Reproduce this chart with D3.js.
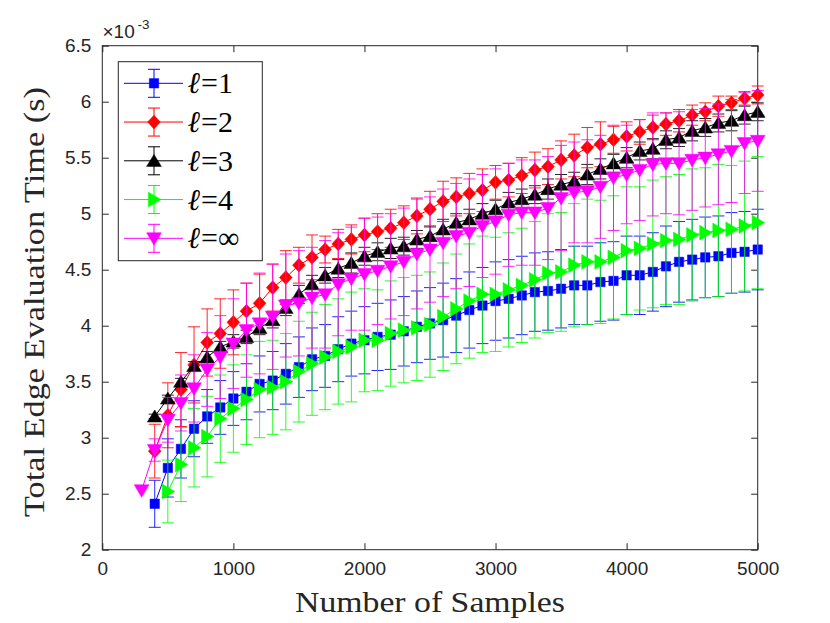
<!DOCTYPE html>
<html>
<head>
<meta charset="utf-8">
<script src="https://cdn.jsdelivr.net/npm/d3@7"></script>
<style>
  body { margin: 0; background: #fff; }
  svg { display: block; }
</style>
</head>
<body>
<div id="chart-area"></div>
<script>
// samples (x) for each series
const samples1 = d3.range(400, 5001, 100);
const samples2 = d3.range(400, 5001, 100);
const samples3 = d3.range(400, 5001, 100);
const samples4 = d3.range(500, 5001, 100);
const samplesInf = d3.range(300, 5001, 100);

// mean total edge evaluation time (x 1e-3 s)
const mean1 = [2.41, 2.73, 2.90, 3.08, 3.19, 3.27, 3.35, 3.41, 3.48, 3.51,
  3.57, 3.63, 3.70, 3.73, 3.79, 3.84, 3.87, 3.90, 3.92, 3.95,
  3.99, 4.02, 4.05, 4.09, 4.14, 4.18, 4.22, 4.24, 4.27, 4.30,
  4.31, 4.33, 4.36, 4.36, 4.39, 4.40, 4.45, 4.45, 4.48, 4.53,
  4.57, 4.59, 4.61, 4.62, 4.65, 4.66, 4.68];
const err1 = [0.21, 0.26, 0.26, 0.25, 0.24, 0.24, 0.24, 0.25, 0.25, 0.26,
  0.27, 0.27, 0.28, 0.28, 0.29, 0.29, 0.30, 0.30, 0.31, 0.31,
  0.32, 0.32, 0.33, 0.33, 0.34, 0.34, 0.35, 0.35, 0.35, 0.35,
  0.35, 0.35, 0.35, 0.35, 0.35, 0.35, 0.35, 0.35, 0.35, 0.36,
  0.36, 0.36, 0.36, 0.36, 0.36, 0.36, 0.36];

const mean2 = [2.88, 3.20, 3.43, 3.65, 3.85, 3.93, 4.03, 4.13, 4.20, 4.34,
  4.43, 4.54, 4.61, 4.68, 4.73, 4.77, 4.81, 4.84, 4.87, 4.92,
  4.98, 5.04, 5.11, 5.15, 5.18, 5.21, 5.28, 5.30, 5.34, 5.39,
  5.42, 5.48, 5.52, 5.59, 5.62, 5.66, 5.69, 5.73, 5.77, 5.80,
  5.83, 5.88, 5.91, 5.96, 5.99, 6.03, 6.06];
const err2 = [0.24, 0.29, 0.33, 0.34, 0.30, 0.31, 0.29, 0.25, 0.26, 0.21,
  0.24, 0.16, 0.20, 0.12, 0.13, 0.13, 0.15, 0.16, 0.17, 0.15,
  0.16, 0.16, 0.18, 0.17, 0.18, 0.19, 0.15, 0.15, 0.16, 0.16,
  0.16, 0.17, 0.19, 0.18, 0.20, 0.12, 0.13, 0.11, 0.11, 0.10,
  0.10, 0.09, 0.08, 0.09, 0.06, 0.06, 0.08];

const mean3 = [3.19, 3.35, 3.50, 3.64, 3.72, 3.81, 3.86, 3.90, 3.98, 4.05,
  4.16, 4.28, 4.37, 4.45, 4.51, 4.56, 4.62, 4.66, 4.69, 4.71,
  4.77, 4.80, 4.86, 4.92, 4.95, 5.00, 5.04, 5.10, 5.13, 5.17,
  5.22, 5.26, 5.29, 5.35, 5.40, 5.45, 5.50, 5.56, 5.58, 5.66,
  5.68, 5.74, 5.77, 5.81, 5.83, 5.88, 5.91];
const err3 = [0.02, 0.03, 0.03, 0.04, 0.05, 0.05, 0.06, 0.06, 0.06, 0.07,
  0.07, 0.08, 0.08, 0.07, 0.08, 0.09, 0.08, 0.08, 0.09, 0.08,
  0.08, 0.09, 0.09, 0.08, 0.09, 0.09, 0.08, 0.09, 0.09, 0.08,
  0.09, 0.09, 0.08, 0.09, 0.09, 0.08, 0.09, 0.08, 0.09, 0.08,
  0.08, 0.09, 0.08, 0.08, 0.09, 0.08, 0.08];

const mean4 = [2.52, 2.76, 2.91, 3.01, 3.17, 3.26, 3.34, 3.43, 3.45, 3.50,
  3.59, 3.66, 3.72, 3.77, 3.81, 3.87, 3.87, 3.93, 3.96, 3.98,
  4.01, 4.08, 4.15, 4.22, 4.28, 4.28, 4.32, 4.36, 4.41, 4.47,
  4.48, 4.54, 4.57, 4.57, 4.61, 4.67, 4.69, 4.73, 4.76, 4.77,
  4.81, 4.83, 4.85, 4.86, 4.89, 4.92];
const err4 = [0.28, 0.33, 0.35, 0.36, 0.39, 0.39, 0.40, 0.43, 0.42, 0.43,
  0.45, 0.46, 0.47, 0.47, 0.49, 0.46, 0.45, 0.47, 0.47, 0.47,
  0.47, 0.48, 0.49, 0.51, 0.52, 0.51, 0.51, 0.51, 0.52, 0.53,
  0.53, 0.55, 0.56, 0.55, 0.55, 0.57, 0.55, 0.57, 0.57, 0.58,
  0.59, 0.58, 0.59, 0.57, 0.58, 0.59];

const meanInf = [2.53, 2.89, 3.16, 3.31, 3.44, 3.61, 3.72, 3.84, 3.96, 4.02,
  4.08, 4.18, 4.20, 4.25, 4.28, 4.37, 4.42, 4.46, 4.49, 4.53,
  4.57, 4.64, 4.68, 4.74, 4.80, 4.83, 4.89, 4.93, 4.99, 5.01,
  5.01, 5.05, 5.14, 5.19, 5.20, 5.24, 5.32, 5.35, 5.39, 5.44,
  5.45, 5.45, 5.48, 5.50, 5.53, 5.56, 5.63, 5.65];
const errInf = [0.00, 0.10, 0.20, 0.25, 0.30, 0.33, 0.37, 0.40, 0.42, 0.45,
  0.47, 0.46, 0.47, 0.45, 0.48, 0.46, 0.46, 0.50, 0.48, 0.47,
  0.48, 0.49, 0.47, 0.48, 0.47, 0.48, 0.46, 0.47, 0.46, 0.47,
  0.47, 0.46, 0.47, 0.45, 0.46, 0.46, 0.47, 0.44, 0.45, 0.46,
  0.45, 0.46, 0.45, 0.44, 0.45, 0.46, 0.45, 0.45];

const seriesNames = ["1", "2", "3", "4", "\u221E"];
const seriesColors = ["#0000ff", "#ff0000", "#000000", "#00ff00", "#ff00ff"];
const seriesMarkers = ["square", "diamond", "up", "right", "down"];

const xTicks = [0, 1000, 2000, 3000, 4000, 5000];
const yTicks = [2, 2.5, 3, 3.5, 4, 4.5, 5, 5.5, 6, 6.5];

const width = 830;
const height = 623;
const plotLeft = 102.3, plotRight = 757.7, plotTop = 45.7, plotBottom = 549.7;
const axisColor = "#262626";

const svg = d3.select("#chart-area")
    .append("svg")
    .attr("width", width)
    .attr("height", height);

const x = d3.scaleLinear().domain([0, 5000]).range([plotLeft, plotRight]);
const y = d3.scaleLinear().domain([2, 6.5]).range([plotBottom, plotTop]);

// marker shapes
function markerPath(type) {
    switch (type) {
        case "square": return "M-4.7,-4.7H4.7V4.7H-4.7Z";
        case "diamond": return "M0,-6.9L6.4,0L0,6.9L-6.4,0Z";
        case "up": return "M0,-6.4L7.4,5.6H-7.4Z";
        case "down": return "M0,7L7.4,-5.6H-7.4Z";
        case "right": return "M7,0L-5.6,7.4V-7.4Z";
    }
}

const tickFont = "'Liberation Sans', Arial, Helvetica, sans-serif";
const serif = "'Liberation Serif', 'Times New Roman', serif";

// axes (ticks inward, box on)
svg.append("g")
    .attr("transform", "translate(0," + plotBottom + ")")
    .call(d3.axisBottom(x).tickValues(xTicks).tickSize(-6.5).tickPadding(12).tickFormat(d => d))
    .call(g => g.select(".domain").remove());

svg.append("g")
    .attr("transform", "translate(0," + plotTop + ")")
    .call(d3.axisTop(x).tickValues(xTicks).tickSize(-6.5).tickFormat(""))
    .call(g => g.select(".domain").remove());

svg.append("g")
    .attr("transform", "translate(" + plotLeft + ",0)")
    .call(d3.axisLeft(y).tickValues(yTicks).tickSize(-6.5).tickPadding(11).tickFormat(d => d))
    .call(g => g.select(".domain").remove());

svg.append("g")
    .attr("transform", "translate(" + plotRight + ",0)")
    .call(d3.axisRight(y).tickValues(yTicks).tickSize(-6.5).tickFormat(""))
    .call(g => g.select(".domain").remove());

svg.selectAll(".tick line").attr("stroke", axisColor).attr("stroke-width", 1);
svg.selectAll(".tick text")
    .attr("fill", axisColor)
    .style("font-family", tickFont)
    .style("font-size", "19px");

svg.append("rect")
    .attr("x", plotLeft).attr("y", plotTop)
    .attr("width", plotRight - plotLeft).attr("height", plotBottom - plotTop)
    .attr("fill", "none")
    .attr("stroke", axisColor)
    .attr("stroke-width", 1);

// exponent label
svg.append("text")
    .attr("x", 102.5).attr("y", 38)
    .attr("fill", axisColor)
    .attr("font-family", tickFont)
    .attr("font-size", 19)
    .text("\u00D710");
svg.append("text")
    .attr("x", 137.5).attr("y", 28.5)
    .attr("fill", axisColor)
    .attr("font-family", tickFont)
    .attr("font-size", 13.5)
    .text("-3");

// plot series
const allSeries = [
    { xs: samples1, m: mean1, e: err1 },
    { xs: samples2, m: mean2, e: err2 },
    { xs: samples3, m: mean3, e: err3 },
    { xs: samples4, m: mean4, e: err4 },
    { xs: samplesInf, m: meanInf, e: errInf }
];

const plot = svg.append("g");
const capHalf = 6;

allSeries.forEach((s, i) => {
    const color = seriesColors[i];
    const pts = s.xs.map((n, j) => ({ n: n, v: s.m[j], e: s.e[j] }));
    const g = plot.append("g");

    // error bars
    const eb = g.selectAll(".eb").data(pts.filter(d => d.e > 0)).enter().append("g");
    eb.append("line")
        .attr("x1", d => x(d.n)).attr("x2", d => x(d.n))
        .attr("y1", d => y(d.v - d.e)).attr("y2", d => y(d.v + d.e));
    eb.append("line")
        .attr("x1", d => x(d.n) - capHalf).attr("x2", d => x(d.n) + capHalf)
        .attr("y1", d => y(d.v + d.e)).attr("y2", d => y(d.v + d.e));
    eb.append("line")
        .attr("x1", d => x(d.n) - capHalf).attr("x2", d => x(d.n) + capHalf)
        .attr("y1", d => y(d.v - d.e)).attr("y2", d => y(d.v - d.e));
    eb.selectAll("line").attr("stroke", color).attr("stroke-width", 1).attr("stroke-opacity", 0.85);

    // line
    g.append("path")
        .datum(pts)
        .attr("fill", "none")
        .attr("stroke", color)
        .attr("stroke-width", 1)
        .attr("d", d3.line().x(d => x(d.n)).y(d => y(d.v)));

    // markers
    g.selectAll(".mk").data(pts).enter().append("path")
        .attr("transform", d => "translate(" + x(d.n) + "," + y(d.v) + ")")
        .attr("d", markerPath(seriesMarkers[i]))
        .attr("fill", color)
        .attr("stroke", color)
        .attr("stroke-width", 0.5);
});

// axis labels
svg.append("text")
    .attr("x", 430).attr("y", 611.5)
    .attr("text-anchor", "middle")
    .attr("fill", axisColor)
    .attr("textLength", 270)
    .attr("lengthAdjust", "spacingAndGlyphs")
    .style("font-family", serif)
    .style("font-size", "29.5px")
    .text("Number of Samples");

svg.append("text")
    .attr("transform", "translate(43.5,302) rotate(-90)")
    .attr("text-anchor", "middle")
    .attr("fill", axisColor)
    .attr("textLength", 430)
    .attr("lengthAdjust", "spacingAndGlyphs")
    .style("font-family", serif)
    .style("font-size", "29.5px")
    .text("Total Edge Evaluation Time (s)");

// legend
const legend = svg.append("g");
legend.append("rect")
    .attr("x", 118.3).attr("y", 61.7)
    .attr("width", 144).attr("height", 199)
    .attr("fill", "#fff")
    .attr("stroke", axisColor)
    .attr("stroke-width", 1);

const legendY = d3.scalePoint().domain(d3.range(5)).range([83.3, 238.3]);

seriesNames.forEach((name, i) => {
    const cy = legendY(i);
    const color = seriesColors[i];
    const row = legend.append("g");
    row.append("line").attr("x1", 124).attr("x2", 183).attr("y1", cy).attr("y2", cy)
        .attr("stroke", color).attr("stroke-width", 1);
    row.append("line").attr("x1", 154).attr("x2", 154).attr("y1", cy - 14).attr("y2", cy + 14)
        .attr("stroke", color).attr("stroke-width", 1);
    row.append("line").attr("x1", 148).attr("x2", 160).attr("y1", cy - 14).attr("y2", cy - 14)
        .attr("stroke", color).attr("stroke-width", 1);
    row.append("line").attr("x1", 148).attr("x2", 160).attr("y1", cy + 14).attr("y2", cy + 14)
        .attr("stroke", color).attr("stroke-width", 1);
    row.append("path")
        .attr("transform", "translate(154," + cy + ")")
        .attr("d", markerPath(seriesMarkers[i]))
        .attr("fill", color).attr("stroke", color).attr("stroke-width", 0.5);

    const t = row.append("text")
        .attr("x", 187.5).attr("y", cy + 10)
        .attr("fill", "#000")
        .style("font-family", serif)
        .style("font-size", "30px");
    t.append("tspan").style("font-style", "italic").text("\u2113");
    t.append("tspan").attr("dx", 1).text("=" + name);
});
</script>
</body>
</html>
